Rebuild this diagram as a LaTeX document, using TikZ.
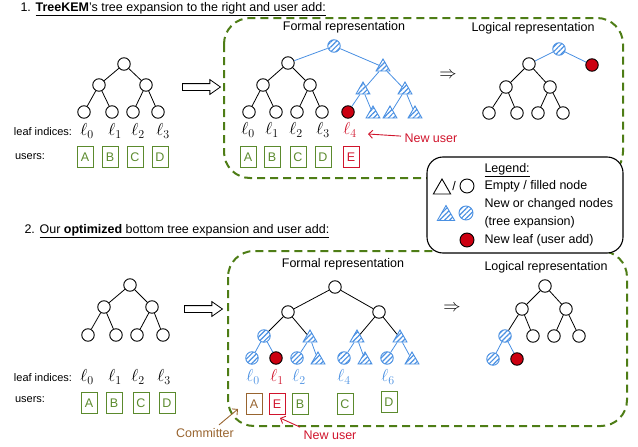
\documentclass[tikz,border=0pt]{standalone}
\usepackage{fontspec}
\setmainfont{Liberation Sans}
\usetikzlibrary{shapes.geometric, shapes.arrows, patterns.meta, arrows.meta}
\definecolor{tgreen}{HTML}{5B8A2D}
\definecolor{dgreen}{HTML}{4E7D16}
\definecolor{tred}{HTML}{D0142C}
\definecolor{leafred}{HTML}{CC0011}
\definecolor{tblue}{HTML}{4A90E2}
\definecolor{tbrown}{HTML}{98642F}

\begin{document}
\begin{tikzpicture}[x=1pt, y=-1pt,
  every node/.style={font=\fontsize{12.5}{15}\selectfont},
  fnode/.style={circle, draw, minimum size=12.5pt, inner sep=0pt, line width=0.9pt},
  hnode/.style={fnode, draw=tblue, pattern={Lines[angle=45, distance=3.5pt, line width=1.2pt]}, pattern color=tblue},
  rnode/.style={fnode, fill=leafred},
  htri/.style={regular polygon, regular polygon sides=3, draw=tblue, minimum size=16pt, inner sep=0pt, line width=0.9pt,
    pattern={Lines[angle=45, distance=3.5pt, line width=1.2pt]}, pattern color=tblue},
  kedge/.style={line width=0.8pt},
  bedge/.style={draw=tblue, line width=0.8pt},
  idx/.style={font=\fontsize{17.28}{20}\selectfont, inner sep=1pt},
  small/.style={font=\fontsize{11}{13}\selectfont},
  ubox/.style={draw=tgreen, text=tgreen, minimum width=16pt, minimum height=21pt, inner sep=0pt, line width=0.9pt},
  harrow/.style={single arrow, draw, fill=white, line width=0.8pt, minimum height=38pt,
    inner xsep=0pt, inner ysep=3pt, single arrow head extend=4pt, single arrow tip angle=70},
  dbox/.style={draw=dgreen, line width=2pt, dash pattern=on 8pt off 5pt, rounded corners=26pt},
  legbox/.style={draw, fill=white, line width=1.1pt, rounded corners=16pt},
  rarrow/.style={draw=tred, line width=0.9pt, -{Straight Barb[length=4pt, width=8pt]}}
]
\useasboundingbox (0,0) rectangle (638,447);

% Titles
\node[anchor=base west] (t1) at (17,11) {1. \underline{\textbf{TreeKEM}'s tree expansion to the right and user add:}};
\node[anchor=base west] (t2) at (21,233) {2. \underline{Our \textbf{optimized} bottom tree expansion and user add:}};

% Dashed frames and legend
\draw[dbox] (224,18) rectangle (623,178);
\draw[dbox] (228,251) rectangle (627,426);
\draw[legbox] (427,157) rectangle (623,253);

% 1. Initial tree
\node[fnode] (ar) at (124,64) {};
\node[fnode] (aL) at (99,85) {};
\node[fnode] (aR) at (146,85) {};
\node[fnode] (a0) at (84,112) {};
\node[fnode] (a1) at (112,112) {};
\node[fnode] (a2) at (133,112) {};
\node[fnode] (a3) at (158,112) {};
\draw[kedge] (ar) -- (aL); \draw[kedge] (ar) -- (aR);
\draw[kedge] (aL) -- (a0); \draw[kedge] (aL) -- (a1);
\draw[kedge] (aR) -- (a2); \draw[kedge] (aR) -- (a3);

\node[small] (aidx) at (43,132) {leaf indices:};
\node[idx] (al0) at (87,131) {$\ell_0$};
\node[idx] (al1) at (115,131) {$\ell_1$};
\node[idx] (al2) at (138,131) {$\ell_2$};
\node[idx] (al3) at (163,131) {$\ell_3$};
\node[small] (ausr) at (30,157) {users:};
\node[ubox] (auA) at (85,157) {A};
\node[ubox] (auB) at (110,157) {B};
\node[ubox] (auC) at (135,157) {C};
\node[ubox] (auD) at (160,157) {D};

\node[harrow] (aarr) at (199,87) {};

% 1. Formal representation
\node (bt) at (344,27) {Formal representation};
\node[hnode] (br) at (334,46) {};
\node[fnode] (bL) at (288,63) {};
\node[htri] (bR) at (383,67) {};
\node[fnode] (bLL) at (263,85) {};
\node[fnode] (bLR) at (310,85) {};
\node[htri] (bRL) at (363,90) {};
\node[htri] (bRR) at (405,90) {};
\node[fnode] (b0) at (249,112) {};
\node[fnode] (b1) at (276,112) {};
\node[fnode] (b2) at (297,112) {};
\node[fnode] (b3) at (322,112) {};
\node[rnode] (b4) at (348,112) {};
\node[htri] (b5) at (373,114) {};
\node[htri] (b6) at (390,114) {};
\node[htri] (b7) at (415,114) {};
\draw[bedge] (br) -- (bL); \draw[bedge] (br) -- (bR);
\draw[kedge] (bL) -- (bLL); \draw[kedge] (bL) -- (bLR);
\draw[kedge] (bLL) -- (b0); \draw[kedge] (bLL) -- (b1);
\draw[kedge] (bLR) -- (b2); \draw[kedge] (bLR) -- (b3);
\draw[bedge] (bR) -- (bRL); \draw[bedge] (bR) -- (bRR);
\draw[bedge] (bRL) -- (b4); \draw[bedge] (bRL) -- (b5);
\draw[bedge] (bRR) -- (b6); \draw[bedge] (bRR) -- (b7);

\node[idx] (bl0) at (248,130) {$\ell_0$};
\node[idx] (bl1) at (272,130) {$\ell_1$};
\node[idx] (bl2) at (296,130) {$\ell_2$};
\node[idx] (bl3) at (323,130) {$\ell_3$};
\node[idx, text=tred] (bl4) at (350,130) {$\ell_4$};
\node[ubox] (buA) at (248,157) {A};
\node[ubox] (buB) at (272,157) {B};
\node[ubox] (buC) at (298,157) {C};
\node[ubox] (buD) at (323,157) {D};
\node[ubox, draw=tred, text=tred] (buE) at (351,157) {E};

\node[anchor=west, text=tred] (nu1) at (401,138) {New user};
\coordinate (nu1tip) at (368,134);
\draw[rarrow] (nu1) -- (nu1tip);

\node[idx] (bimp) at (448,75) {$\Rightarrow$};

% 1. Logical representation
\node (ct) at (533,28) {Logical representation};
\node[hnode] (cr) at (559,49) {};
\node[fnode] (cL) at (529,64) {};
\node[rnode] (c4) at (592,65) {};
\node[fnode] (cLL) at (506,87) {};
\node[fnode] (cLR) at (550,87) {};
\node[fnode] (c0) at (489,113) {};
\node[fnode] (c1) at (517,113) {};
\node[fnode] (c2) at (538,113) {};
\node[fnode] (c3) at (563,113) {};
\draw[bedge] (cr) -- (cL); \draw[bedge] (cr) -- (c4);
\draw[kedge] (cL) -- (cLL); \draw[kedge] (cL) -- (cLR);
\draw[kedge] (cLL) -- (c0); \draw[kedge] (cLL) -- (c1);
\draw[kedge] (cLR) -- (c2); \draw[kedge] (cLR) -- (c3);

% Legend
\node[anchor=west] (lg0) at (481,170) {\underline{Legend:}};
\node[anchor=west] (lg1) at (481,186) {Empty / filled node};
\node[anchor=west] (lg2) at (481,204) {New or changed nodes};
\node[anchor=west] (lg3) at (481,222) {(tree expansion)};
\node[anchor=west] (lg4) at (481,240) {New leaf (user add)};
\node[regular polygon, regular polygon sides=3, draw, minimum size=20pt, inner sep=0pt, line width=0.9pt] (lgt) at (442,189) {};
\node (lgs) at (454,186) {/};
\node[fnode, minimum size=14pt] (lgc) at (467,186) {};
\node[htri, minimum size=20pt] (lght) at (446,215.5) {};
\node[hnode, minimum size=14pt] (lghc) at (466,213) {};
\node[rnode, minimum size=14pt] (lgr) at (467,240) {};

% 2. Initial tree
\node[fnode] (dr) at (130,285) {};
\node[fnode] (dL) at (104,307) {};
\node[fnode] (dR) at (152,307) {};
\node[fnode] (d0) at (88,335) {};
\node[fnode] (d1) at (116,335) {};
\node[fnode] (d2) at (137,335) {};
\node[fnode] (d3) at (163,335) {};
\draw[kedge] (dr) -- (dL); \draw[kedge] (dr) -- (dR);
\draw[kedge] (dL) -- (d0); \draw[kedge] (dL) -- (d1);
\draw[kedge] (dR) -- (d2); \draw[kedge] (dR) -- (d3);

\node[small] (didx) at (43,378) {leaf indices:};
\node[idx] (dl0) at (87,377) {$\ell_0$};
\node[idx] (dl1) at (115,377) {$\ell_1$};
\node[idx] (dl2) at (138,377) {$\ell_2$};
\node[idx] (dl3) at (164,377) {$\ell_3$};
\node[small] (dusr) at (30,400) {users:};
\node[ubox] (duA) at (89,403) {A};
\node[ubox] (duB) at (114,403) {B};
\node[ubox] (duC) at (141,403) {C};
\node[ubox] (duD) at (167,403) {D};

\node[harrow] (darr) at (201,309) {};

% 2. Formal representation
\node (et) at (343,264) {Formal representation};
\node[fnode] (er) at (335,287) {};
\node[fnode] (eL) at (288,312) {};
\node[fnode] (eR) at (379,312) {};
\node[hnode] (eLL) at (264,336) {};
\node[htri] (eLR) at (310,338) {};
\node[htri] (eRL) at (357,338) {};
\node[htri] (eRR) at (400,338) {};
\node[hnode] (e0) at (252,358) {};
\node[rnode] (e1) at (276,358) {};
\node[hnode] (e2) at (297,358) {};
\node[htri] (e3) at (318,360) {};
\node[hnode] (e4) at (344,358) {};
\node[htri] (e5) at (365,360) {};
\node[hnode] (e6) at (387,358) {};
\node[htri] (e7) at (412,360) {};
\draw[kedge] (er) -- (eL); \draw[kedge] (er) -- (eR);
\draw[kedge] (eL) -- (eLL); \draw[kedge] (eL) -- (eLR);
\draw[kedge] (eR) -- (eRL); \draw[kedge] (eR) -- (eRR);
\draw[bedge] (eLL) -- (e0); \draw[bedge] (eLL) -- (e1);
\draw[bedge] (eLR) -- (e2); \draw[bedge] (eLR) -- (e3);
\draw[bedge] (eRL) -- (e4); \draw[bedge] (eRL) -- (e5);
\draw[bedge] (eRR) -- (e6); \draw[bedge] (eRR) -- (e7);

\node[idx, text=tblue] (el0) at (253,377) {$\ell_0$};
\node[idx, text=tred] (el1) at (277,377) {$\ell_1$};
\node[idx, text=tblue] (el2) at (299,377) {$\ell_2$};
\node[idx, text=tblue] (el4) at (344,377) {$\ell_4$};
\node[idx, text=tblue] (el6) at (388,377) {$\ell_6$};
\node[ubox, draw=tbrown, text=tbrown] (euA) at (254,404) {A};
\node[ubox, draw=tred, text=tred] (euE) at (277,404) {E};
\node[ubox] (euB) at (300,404) {B};
\node[ubox] (euC) at (345,404) {C};
\node[ubox] (euD) at (389,402) {D};

\node[text=tred] (nu2) at (330,435) {New user};
\coordinate (nu2tip) at (280,418);
\draw[rarrow] (nu2.north west) -- (nu2tip);

\node[text=tbrown] (cm) at (205,433) {Committer};
\coordinate (cmtip) at (238,409);
\draw[draw=tbrown, line width=0.9pt, -{Straight Barb[length=4pt, width=8pt]}] ([xshift=14pt]cm.north) -- (cmtip);

\node[idx] (eimp) at (452,308) {$\Rightarrow$};

% 2. Logical representation
\node (ft) at (546,267) {Logical representation};
\node[fnode] (fr) at (545,286) {};
\node[fnode] (fL) at (522,309) {};
\node[fnode] (fR) at (566,309) {};
\node[hnode] (fLL) at (505,336) {};
\node[fnode] (f1) at (533,336) {};
\node[fnode] (f2) at (554,336) {};
\node[fnode] (f3) at (579,336) {};
\node[hnode] (f00) at (493,359) {};
\node[rnode] (f01) at (517,359) {};
\draw[kedge] (fr) -- (fL); \draw[kedge] (fr) -- (fR);
\draw[kedge] (fL) -- (fLL); \draw[kedge] (fL) -- (f1);
\draw[kedge] (fR) -- (f2); \draw[kedge] (fR) -- (f3);
\draw[bedge] (fLL) -- (f00); \draw[bedge] (fLL) -- (f01);
\end{tikzpicture}
\end{document}
